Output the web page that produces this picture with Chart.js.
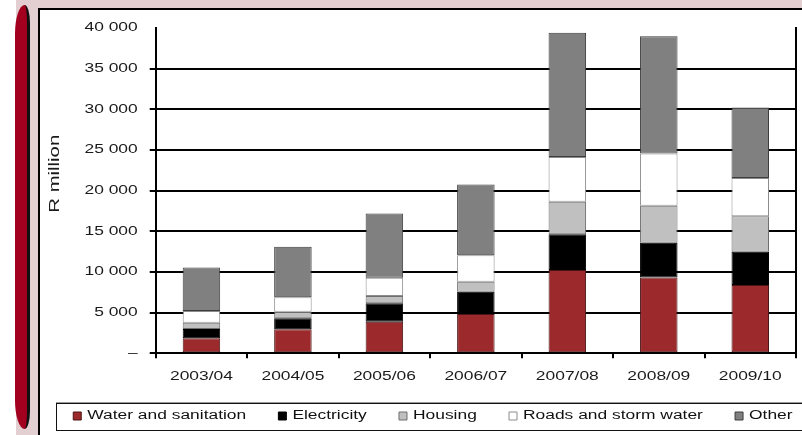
<!DOCTYPE html>
<html>
<head>
<meta charset="utf-8">
<title>Municipal capital expenditure by service, R million</title>
<script src="https://cdn.jsdelivr.net/npm/chart.js@4.4.1/dist/chart.umd.min.js"></script>
<style>
  html, body { margin: 0; padding: 0; }
  body { width: 802px; height: 435px; position: relative; overflow: hidden; background: #ffffff; }
  .band { position: absolute; left: 16px; top: 0; width: 786px; height: 435px; background: #e3ced1; }
  .bracket {
    position: absolute; left: 15px; top: 5px; width: 12px; height: 424px;
    background: #a3001f; border-right: 3px solid #111;
    border-radius: 14px 8px 8px 14px / 42px 26px 26px 42px;
  }
  .panel {
    position: absolute; left: 38px; top: 8px; width: 780px; height: 440px;
    background: #ffffff; border-left: 2px solid #000; border-top: 2px solid #000;
  }
  .legend-frame {
    position: absolute; left: 56px; top: 403px; width: 780px; height: 26px;
    border: 1.5px solid #111; box-shadow: 0 -1px 0 #9a9a9a;
  }
  #chart { position: absolute; left: 0; top: 0; }
</style>
</head>
<body>
<div class="band"></div>
<div class="bracket"></div>
<div class="panel"></div>
<div class="legend-frame"></div>
<canvas id="chart" width="850" height="435"></canvas>
<script>
// Financial years on the category axis
const categories = ['2003/04', '2004/05', '2005/06', '2006/07', '2007/08', '2008/09', '2009/10'];

// Spending per service, R million
const waterSanitation = [1840, 2950, 3880, 4830, 10230, 9330, 8390];
const electricity     = [1140, 1350, 2260, 2730, 4420, 4250, 4090];
const housing         = [780, 810, 900, 1230, 3970, 4550, 4380];
const roadsStormWater = [1430, 1770, 2250, 3280, 5520, 6430, 4710];
const other           = [5370, 6210, 7900, 8680, 15280, 14440, 8640];

// Value axis: range, step and the mark used for zero
const axisMax = 40000;
const axisStep = 5000;
const zeroMark = '–';

// Text in this document is set in a wide face: glyphs are stretched along
// the reading direction, so both drawing and measuring are widened.
const TEXT_STRETCH = 1.45;
function useWideText(ctx) {
  const fill = ctx.fillText.bind(ctx);
  const measure = ctx.measureText.bind(ctx);
  ctx.fillText = function (text, x, y, maxWidth) {
    this.save();
    this.translate(x, y);
    this.scale(TEXT_STRETCH, 1);
    if (maxWidth === undefined) fill(text, 0, 0);
    else fill(text, 0, 0, maxWidth / TEXT_STRETCH);
    this.restore();
  };
  ctx.measureText = function (text) {
    const m = measure(text);
    return {
      width: m.width * TEXT_STRETCH,
      actualBoundingBoxLeft: m.actualBoundingBoxLeft * TEXT_STRETCH,
      actualBoundingBoxRight: m.actualBoundingBoxRight * TEXT_STRETCH,
      actualBoundingBoxAscent: m.actualBoundingBoxAscent,
      actualBoundingBoxDescent: m.actualBoundingBoxDescent,
      fontBoundingBoxAscent: m.fontBoundingBoxAscent,
      fontBoundingBoxDescent: m.fontBoundingBoxDescent
    };
  };
}

function formatRand(v) {
  if (v === 0) return zeroMark;
  return String(v).replace(/\B(?=(\d{3})+(?!\d))/g, ' ');
}

// Legend entries are spread apart with a run of non-breaking spaces after each label
const LEGEND_GAP = '\u00a0'.repeat(5);

const FONT_FAMILY = '"Liberation Sans", Arial, sans-serif';
const canvas = document.getElementById('chart');
useWideText(canvas.getContext('2d'));

const seriesStyle = (label, data, fill, edge) => ({
  label, data,
  backgroundColor: fill,
  borderColor: edge,
  borderWidth: 1,
  borderSkipped: false,
  categoryPercentage: 1,
  barPercentage: 0.41
});

new Chart(canvas, {
  type: 'bar',
  data: {
    labels: categories,
    datasets: [
      seriesStyle('Water and sanitation', waterSanitation, '#9c2a2c', '#4a1517'),
      seriesStyle('Electricity', electricity, '#000000', '#000000'),
      seriesStyle('Housing', housing, '#c0c0c0', '#6e6e6e'),
      seriesStyle('Roads and storm water', roadsStormWater, '#ffffff', '#8c8c8c'),
      seriesStyle('Other', other, '#808080', '#3c3c3c')
    ]
  },
  options: {
    responsive: false,
    animation: false,
    devicePixelRatio: 1,
    layout: { padding: { left: 40, right: 0, top: 28, bottom: 3 } },
    plugins: {
      tooltip: { enabled: false },
      legend: {
        position: 'bottom',
        align: 'center',
        labels: {
          boxWidth: 8,
          boxHeight: 8,
          padding: 8,
          color: '#111',
          font: { family: FONT_FAMILY, size: 12 },
          generateLabels: (chart) =>
            Chart.defaults.plugins.legend.labels.generateLabels(chart)
              .map((item) => ({ ...item, text: item.text + LEGEND_GAP }))
        }
      }
    },
    scales: {
      x: {
        stacked: true,
        grid: {
          display: true,
          offset: true,
          drawOnChartArea: false,
          drawTicks: true,
          tickLength: 5,
          color: '#000',
          lineWidth: 2
        },
        border: { color: '#000', width: 2 },
        ticks: {
          color: '#1a1a1a',
          padding: 11.5,
          maxRotation: 0,
          font: { family: FONT_FAMILY, size: 12 }
        },
        afterFit: (scale) => { scale.height = 48.7; }
      },
      y: {
        stacked: true,
        min: 0,
        max: axisMax,
        ticks: {
          stepSize: axisStep,
          padding: 12,
          color: '#1a1a1a',
          font: { family: FONT_FAMILY, size: 12 },
          callback: (v) => formatRand(v)
        },
        grid: {
          color: (c) => (c.tick && c.tick.value === axisMax ? 'rgba(0,0,0,0)' : '#000'),
          lineWidth: 2,
          tickLength: 6
        },
        border: { color: '#000', width: 2 },
        title: {
          display: true,
          text: '\u00a0\u00a0\u00a0\u00a0\u00a0\u00a0R million',
          color: '#1a1a1a',
          padding: { top: 6.6, bottom: 0 },
          font: { family: FONT_FAMILY, size: 14 }
        },
        afterFit: (scale) => { scale.width = 115.7; }
      },
      frame: {
        position: 'right',
        min: 0,
        max: axisMax,
        ticks: { display: false },
        grid: { display: true, drawOnChartArea: false, drawTicks: false },
        border: { color: '#000', width: 2 },
        afterFit: (scale) => { scale.width = 54; }
      }
    }
  }
});
</script>
</body>
</html>
